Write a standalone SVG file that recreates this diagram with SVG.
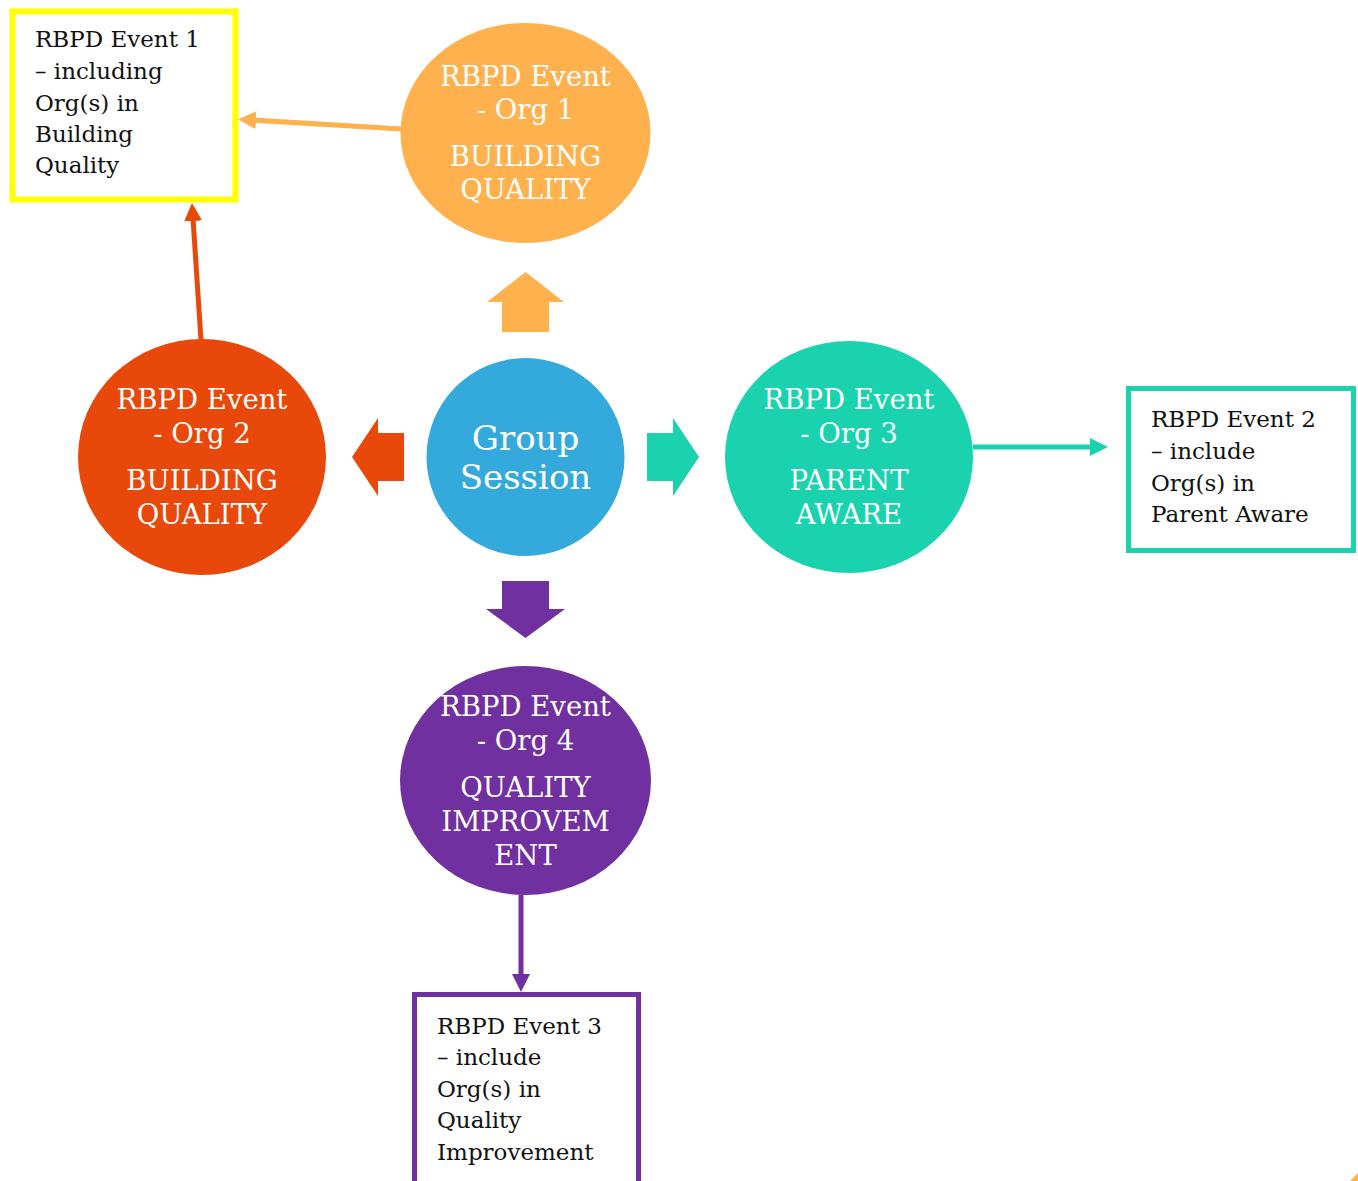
<svg xmlns="http://www.w3.org/2000/svg" width="1358" height="1181" viewBox="0 0 1358 1181">
<style>
.ct{font-family:"DejaVu Serif","Liberation Serif",serif;fill:#fff;text-anchor:middle;font-size:27.5px}
.bt{font-family:"DejaVu Serif","Liberation Serif",serif;fill:#111;font-size:23px}
.box{fill:#fff}
.conn{fill:none;stroke-width:5}
</style>
<defs>
<marker id="mO" markerUnits="userSpaceOnUse" markerWidth="18" markerHeight="18" refX="4" refY="9" orient="auto"><path d="M0,0 L18,9 L0,18 z" fill="#FFB14E"/></marker>
<marker id="mR" markerUnits="userSpaceOnUse" markerWidth="18" markerHeight="18" refX="4" refY="9" orient="auto"><path d="M0,0 L18,9 L0,18 z" fill="#E8490A"/></marker>
<marker id="mG" markerUnits="userSpaceOnUse" markerWidth="18" markerHeight="18" refX="4" refY="9" orient="auto"><path d="M0,0 L18,9 L0,18 z" fill="#1AD3AE"/></marker>
<marker id="mP" markerUnits="userSpaceOnUse" markerWidth="18" markerHeight="18" refX="4" refY="9" orient="auto"><path d="M0,0 L18,9 L0,18 z" fill="#7030A0"/></marker>
</defs>
<rect width="1358" height="1181" fill="#fff"/>

<g id="connectors">
<line class="conn" x1="401" y1="129" x2="252" y2="120" stroke="#FFB14E" marker-end="url(#mO)"/>
<line class="conn" x1="201" y1="340" x2="192.9" y2="217" stroke="#E8490A" marker-end="url(#mR)"/>
<line class="conn" x1="973" y1="447" x2="1094" y2="447" stroke="#1AD3AE" marker-end="url(#mG)"/>
<line class="conn" x1="521" y1="895" x2="521" y2="978" stroke="#7030A0" marker-end="url(#mP)"/>
<polygon points="525.5,272 564,302 549,302 549,332 502,332 502,302 487,302" fill="#FFB14E"/>
<polygon points="352,457 378,418 378,433 404,433 404,481 378,481 378,496" fill="#E8490A"/>
<polygon points="699,457 673,418 673,433 647,433 647,481 673,481 673,496" fill="#1AD3AE"/>
<polygon points="525.5,638 565,609 549,609 549,581 502,581 502,609 486,609" fill="#7030A0"/>
</g>

<g id="box1">
<rect class="box" x="12.5" y="11.5" width="223" height="188" stroke="#FFFF00" stroke-width="6"/>
<text class="bt"><tspan x="35" y="47">RBPD Event 1</tspan><tspan x="35" y="79">– including</tspan><tspan x="35" y="111">Org(s) in</tspan><tspan x="35" y="142">Building</tspan><tspan x="35" y="173">Quality</tspan></text>
</g>

<g id="org1">
<ellipse cx="525.5" cy="133" rx="125" ry="110" fill="#FFB14E"/>
<text class="ct"><tspan x="525.5" y="86">RBPD Event</tspan><tspan x="525.5" y="119">- Org 1</tspan><tspan x="525.5" y="166">BUILDING</tspan><tspan x="525.5" y="199">QUALITY</tspan></text>
</g>

<g id="group">
<circle cx="525.5" cy="457" r="99" fill="#34A9DB"/>
<text class="ct" style="font-size:34px"><tspan x="525.5" y="450">Group</tspan><tspan x="525.5" y="489">Session</tspan></text>
</g>

<g id="org2">
<ellipse cx="202" cy="457" rx="124" ry="118" fill="#E8490A"/>
<text class="ct"><tspan x="202" y="409">RBPD Event</tspan><tspan x="202" y="443">- Org 2</tspan><tspan x="202" y="490">BUILDING</tspan><tspan x="202" y="524">QUALITY</tspan></text>
</g>

<g id="org3">
<ellipse cx="849" cy="457" rx="124" ry="116" fill="#1AD3AE"/>
<text class="ct"><tspan x="849" y="409">RBPD Event</tspan><tspan x="849" y="443">- Org 3</tspan><tspan x="849" y="490">PARENT</tspan><tspan x="849" y="524">AWARE</tspan></text>
</g>

<g id="box2">
<rect class="box" x="1128.5" y="388.5" width="225" height="162" stroke="#1AD3AE" stroke-width="5"/>
<text class="bt"><tspan x="1151" y="427">RBPD Event 2</tspan><tspan x="1151" y="459">– include</tspan><tspan x="1151" y="491">Org(s) in</tspan><tspan x="1151" y="522">Parent Aware</tspan></text>
</g>

<g id="org4">
<ellipse cx="525.5" cy="780.5" rx="125.5" ry="114.5" fill="#7030A0"/>
<text class="ct"><tspan x="525.5" y="716">RBPD Event</tspan><tspan x="525.5" y="750">- Org 4</tspan><tspan x="525.5" y="797">QUALITY</tspan><tspan x="525.5" y="831">IMPROVEM</tspan><tspan x="525.5" y="865">ENT</tspan></text>
</g>

<g id="box3">
<rect class="box" x="414.5" y="994.5" width="224" height="200" stroke="#7030A0" stroke-width="5"/>
<text class="bt"><tspan x="437" y="1034">RBPD Event 3</tspan><tspan x="437" y="1065">– include</tspan><tspan x="437" y="1097">Org(s) in</tspan><tspan x="437" y="1128">Quality</tspan><tspan x="437" y="1160">Improvement</tspan></text>
</g>

<polygon points="1358,1173 1358,1181 1350,1181" fill="#FFB14E"/>
</svg>
